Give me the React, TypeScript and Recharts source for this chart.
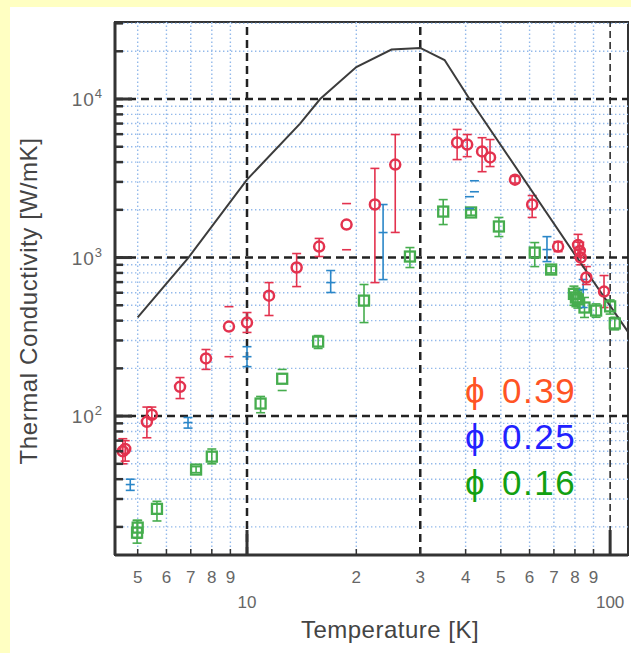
import React from 'react';
import { ScatterChart, Scatter, XAxis, YAxis, ErrorBar, ReferenceLine, ReferenceArea } from 'recharts';

const W = 631;
const H = 653;
const FONT = '"Liberation Sans", Arial, sans-serif';

const RED = '#e3324e';
const BLUE = '#2a86c8';
const GREEN = '#46ad4e';

// axes
const X_DOMAIN: [number, number] = [4.33, 112];
const Y_DOMAIN: [number, number] = [13.3, 30600];
const xTicks = [5, 6, 7, 8, 9, 10, 20, 30, 40, 50, 60, 70, 80, 90, 100];
const xTickLabels = ['5', '6', '7', '8', '9', '10', '2', '3', '4', '5', '6', '7', '8', '9', '100'];
const yTicks = [
  20, 30, 40, 50, 60, 70, 80, 90, 100, 200, 300, 400, 500, 600, 700, 800, 900,
  1000, 2000, 3000, 4000, 5000, 6000, 7000, 8000, 9000, 10000, 20000, 30000,
];
const xGridMajor = [10, 30, 100];
const yGridMajor = [100, 1000, 10000];

// model curve
const curveT = [5, 6.9, 10, 14, 15.9, 20, 25, 30, 35, 41, 81, 112];
const curveK = [420, 1000, 3100, 7000, 10000, 15900, 20500, 21000, 17600, 10000, 1000, 340];

// phi 0.39 (red circles)
const redT = [4.55, 4.62, 5.3, 5.47, 6.54, 7.71, 10.0, 11.5, 13.7, 15.8, 22.5, 25.6, 37.9, 40.4, 44.4, 46.7, 54.7, 61, 71.9, 81.6, 82.5, 83, 86, 96.2];
const redK = [60, 62, 92, 102, 153, 231, 389, 575, 865, 1173, 2160, 3860, 5315, 5160, 4670, 4280, 3100, 2160, 1173, 1200, 1100, 1000, 748, 610];
const redLo = [50, 52, 73, 97, 129, 197, 337, 431, 656, 1015, 695, 1440, 4150, 4330, 3480, 3750, 2950, 1790, 1090, 1000, 1000, 900, 676, 484];
const redHi = [72, 70, 114, 114, 175, 263, 450, 695, 1060, 1320, 3650, 5970, 6430, 5970, 5700, 5550, 3250, 2460, 1260, 1400, 1250, 1120, 877, 770];
const redBareT = [8.92, 18.8];
const redBareK = [367, 1615];
const redBareLo = [237, 1120];
const redBareHi = [490, 2190];

// phi 0.25 (blue bars)
const blueT = [4.77, 6.88, 10.0, 17, 23.7, 67, 84.3];
const blueK = [37, 91, 237, 695, 1438, 1123, 628];
const blueLo = [34, 84, 205, 602, 726, 943, 484];
const blueHi = [40, 98, 274, 828, 2160, 1355, 727];
const blueBareT = [42.3, 41];
const blueBareLo = [2600, 2040];
const blueBareHi = [3050, 2420];

// phi 0.16 (green squares)
const greenT = [4.98, 5.0, 5.65, 7.24, 8.0, 10.9, 15.7, 21, 28.1, 34.7, 41.4, 49.4, 62, 68.8, 79.5, 80.5, 81.5, 85, 91.5, 100, 103];
const greenK = [18.4, 19.8, 26, 46, 55.5, 120, 295, 535, 1015, 1950, 1925, 1570, 1075, 840, 590, 560, 545, 484, 463, 492, 384];
const greenLo = [15.8, 17, 21.8, 44, 50, 105, 267, 389, 865, 1615, 1850, 1357, 877, 800, 500, 490, 480, 419, 420, 440, 350];
const greenHi = [22, 22, 29, 48, 62, 133, 322, 676, 1156, 2320, 2000, 1790, 1243, 880, 660, 640, 620, 560, 510, 540, 420];
const greenBareT = [12.5];
const greenBareK = [172];
const greenBareLo = [145];
const greenBareHi = [197];

const legendLabels = ['0.39', '0.25', '0.16'];
const legendColors = ['#ff5424', '#2222ff', '#12a012'];

const rows = (t: number[], k: number[], lo?: number[], hi?: number[]) =>
  t.map((T, i) => ({ T, k: k[i], err: lo && hi ? [k[i] - lo[i], hi[i] - k[i]] : [0, 0] }));
const capRows = (t: number[], lo: number[], hi: number[]) =>
  t.flatMap((T, i) => [{ T, k: lo[i] }, { T, k: hi[i] }]);

const Circle = (color: string) => (p: any) => (
  <circle cx={p.cx} cy={p.cy} r={5} fill="none" stroke={color} strokeWidth={2.5} />
);
const Square = (color: string) => (p: any) => (
  <rect x={p.cx - 5} y={p.cy - 5} width={10} height={10} fill="none" stroke={color} strokeWidth={2.3} />
);
const Dash = (color: string) => (p: any) => (
  <line x1={p.cx - 4.5} x2={p.cx + 4.5} y1={p.cy} y2={p.cy} stroke={color} strokeWidth={1.6} />
);
const Nothing = () => <g />;

const XTick = (props: any) => {
  const { x, y, payload } = props;
  const v = payload.value;
  const major = v === 10 || v === 100;
  return (
    <g>
      <line x1={x} x2={x} y1={y} y2={y - (major ? 25 : 6)} stroke="#333" strokeWidth={major ? 3 : 1.5} />
      <text x={x} y={major ? y + 53 : y + 28} textAnchor="middle" fontSize={17} fill="#666" fontFamily={FONT}>
        {xTickLabels[xTicks.indexOf(v)]}
      </text>
    </g>
  );
};

const YTick = (props: any) => {
  const { x, y, payload } = props;
  const v = payload.value;
  const exp = Math.round(Math.log10(v));
  const major = Math.abs(v - 10 ** exp) < 1e-6;
  return (
    <g>
      <line x1={x} x2={x + (major ? 17 : 8)} y1={y} y2={y} stroke="#333" strokeWidth={major ? 3 : 2.5} />
      {major && (
        <text x={x - 12} y={y + 7} textAnchor="end" fontSize={19} fill="#666" fontFamily={FONT} letterSpacing={1}>
          10<tspan dy={-8} fontSize={13}>{exp}</tspan>
        </text>
      )}
    </g>
  );
};

export default function App() {
  const minorX = xTicks.filter(v => !xGridMajor.includes(v));
  const minorY = yTicks.filter(v => !yGridMajor.includes(v));
  return (
    <div style={{ position: 'absolute', left: 0, top: 0, width: W, height: H, background: '#ffffc2', overflow: 'hidden' }}>
      <div style={{ position: 'absolute', left: 10, top: 7, right: 0, bottom: 0, background: '#fff' }} />
      <div style={{ position: 'absolute', left: 0, top: 0 }}>
        <ScatterChart width={W} height={H} margin={{ top: 22, right: 3, bottom: 97, left: 114 }}>
          <XAxis
            type="number" dataKey="T" scale="log" domain={X_DOMAIN} allowDataOverflow
            ticks={xTicks} interval={0} tick={<XTick />} tickSize={0} tickMargin={0} tickLine={false}
            height={1} axisLine={{ stroke: '#333', strokeWidth: 3 }}
          />
          <YAxis
            type="number" dataKey="k" scale="log" domain={Y_DOMAIN} allowDataOverflow
            ticks={yTicks} interval={0} tick={<YTick />} tickSize={0} tickMargin={0} tickLine={false}
            width={1} axisLine={{ stroke: '#333', strokeWidth: 3 }}
          />
          {minorX.map(v => (
            <ReferenceLine key={'gx' + v} x={v} stroke="#93b9ea" strokeWidth={1.4} strokeDasharray="1.4 2.6" />
          ))}
          {minorY.map(v => (
            <ReferenceLine key={'gy' + v} y={v} stroke="#93b9ea" strokeWidth={1.4} strokeDasharray="1.4 2.6" />
          ))}
          {yGridMajor.map(v => (
            <ReferenceLine key={'my' + v} y={v} stroke="#222" strokeWidth={2.5} strokeDasharray="8 5" />
          ))}
          {xGridMajor.map(v => (
            <ReferenceLine
              key={'mx' + v} x={v} stroke="#222"
              strokeWidth={v === 100 ? 1.5 : 2.5} strokeDasharray={v === 100 ? '7 4' : '8 5'}
            />
          ))}
          <ReferenceArea x1={X_DOMAIN[0]} x2={X_DOMAIN[1]} y1={Y_DOMAIN[0]} y2={Y_DOMAIN[1]} fill="none" stroke="#333" strokeWidth={2} />

          <Scatter
            data={rows(curveT, curveK)} shape={Nothing} line={{ stroke: '#3c3c3c', strokeWidth: 2 }}
            lineType="joint" isAnimationActive={false}
          />

          <Scatter data={rows(greenT, greenK, greenLo, greenHi)} shape={Square(GREEN)} isAnimationActive={false}>
            <ErrorBar dataKey="err" direction="y" width={4.5} stroke={GREEN} strokeWidth={1.6} />
          </Scatter>
          <Scatter data={rows(greenBareT, greenBareK)} shape={Square(GREEN)} isAnimationActive={false} />
          <Scatter data={capRows(greenBareT, greenBareLo, greenBareHi)} shape={Dash(GREEN)} isAnimationActive={false} />

          <Scatter data={rows(blueT, blueK, blueLo, blueHi)} shape={Dash(BLUE)} isAnimationActive={false}>
            <ErrorBar dataKey="err" direction="y" width={4.5} stroke={BLUE} strokeWidth={1.6} />
          </Scatter>
          <Scatter data={capRows(blueBareT, blueBareLo, blueBareHi)} shape={Dash(BLUE)} isAnimationActive={false} />

          <Scatter data={rows(redT, redK, redLo, redHi)} shape={Circle(RED)} isAnimationActive={false}>
            <ErrorBar dataKey="err" direction="y" width={4.5} stroke={RED} strokeWidth={1.6} />
          </Scatter>
          <Scatter data={rows(redBareT, redBareK)} shape={Circle(RED)} isAnimationActive={false} />
          <Scatter data={capRows(redBareT, redBareLo, redBareHi)} shape={Dash(RED)} isAnimationActive={false} />
        </ScatterChart>
      </div>
      <svg width={W} height={H} style={{ position: 'absolute', left: 0, top: 0, pointerEvents: 'none' }}>
        <text x={390} y={638} textAnchor="middle" fontSize={24} fill="#444" fontFamily={FONT} letterSpacing={0.5}>
          Temperature [K]
        </text>
        <text
          x={37} y={301} transform="rotate(-90 37 301)" textAnchor="middle"
          fontSize={24} fill="#444" fontFamily={FONT} letterSpacing={0.6}
        >
          Thermal Conductivity [W/mK]
        </text>
        {legendLabels.map((label, i) => (
          <g key={label} fill={legendColors[i]} fontFamily={FONT} fontSize={35}>
            <text x={465} y={403 + i * 46}>ϕ</text>
            <text x={502} y={403 + i * 46} letterSpacing={1.5}>{label}</text>
          </g>
        ))}
      </svg>
    </div>
  );
}
